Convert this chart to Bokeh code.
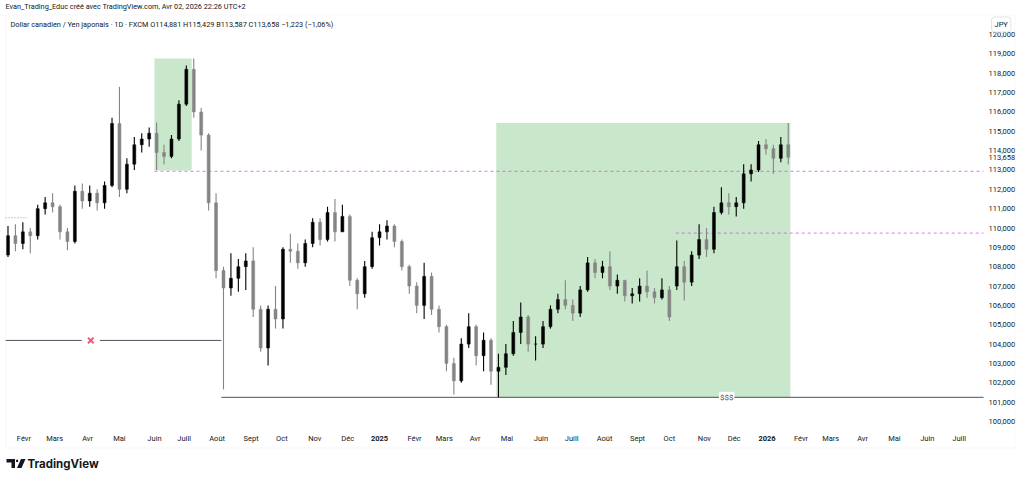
import pandas as pd
from bokeh.plotting import figure
from bokeh.models import (Range1d, LinearAxis, FixedTicker, Label, BoxAnnotation,
                          PolyAnnotation, ColumnDataSource)
from bokeh.embed import file_html
from bokeh.resources import INLINE

# ---------------- data (weekly candles) ----------------
first_week = "2024-01-15"
first_open = 108.6
gap_opens = {"2025-10-06": 107.0}

close = [109.6, 109.2, 109.8, 109.6, 111.0, 111.3, 111.1, 109.8, 109.3, 111.9,
         111.4, 111.8, 111.3, 112.2, 115.4, 112.0, 113.3, 114.3, 114.6, 114.9,
         113.9, 113.7, 114.6, 116.4, 118.2, 116.0, 114.8, 111.3, 107.8, 106.9,
         107.4, 108.0, 108.3, 105.8, 103.8, 105.8, 105.3, 108.9, 108.8, 108.2,
         109.2, 110.3, 109.4, 110.8, 109.8, 110.6, 107.3, 106.6, 108.0, 109.5,
         109.8, 110.1, 109.3, 108.0, 107.0, 106.0, 107.5, 105.8, 104.9, 103.0,
         102.1, 104.0, 104.9, 103.4, 104.2, 102.6, 102.8, 103.5, 104.6, 105.4,
         104.0, 104.0, 104.9, 105.8, 106.3, 106.0, 105.6, 106.8, 108.2, 107.7,
         108.0, 107.0, 107.3, 106.5, 106.6, 107.0, 106.7, 106.4, 106.8, 105.4,
         108.0, 107.2, 108.6, 109.4, 108.9, 110.8, 111.3, 111.1, 111.3, 112.8,
         113.0, 114.3, 114.1, 113.6, 114.3, 113.658]
high = [110.1, 110.2, 110.3, 110.0, 111.2, 111.6, 111.8, 111.2, 110.0, 112.2,
        112.3, 112.2, 112.0, 112.4, 115.7, 117.3, 113.6, 114.7, 114.9, 115.2,
        115.45, 114.3, 114.8, 116.6, 118.4, 118.76, 116.2, 114.9, 111.8, 108.0,
        108.7, 108.4, 108.7, 109.0, 106.0, 106.0, 107.0, 109.0, 109.7, 109.2,
        109.4, 110.5, 110.5, 111.1, 111.5, 111.2, 110.7, 107.4, 108.3, 109.8,
        110.2, 110.4, 110.2, 109.4, 108.1, 107.2, 108.2, 107.7, 106.0, 105.0,
        103.3, 104.3, 105.6, 105.0, 104.6, 104.3, 103.5, 104.0, 105.2, 106.15,
        105.5, 104.4, 105.2, 106.0, 106.6, 107.3, 106.3, 107.0, 108.5, 108.4,
        108.3, 108.8, 107.6, 107.2, 106.9, 107.4, 107.8, 106.9, 107.4, 107.0,
        109.35, 108.3, 108.8, 110.2, 110.0, 111.1, 112.1, 111.8, 111.6, 113.3,
        113.3, 114.5, 114.6, 114.3, 114.7, 115.43]
low = [108.5, 108.8, 108.9, 108.7, 109.4, 110.7, 110.8, 109.4, 108.85, 109.2,
       111.0, 111.1, 110.9, 111.0, 112.1, 111.6, 111.8, 113.0, 113.9, 114.2,
       113.0, 113.3, 113.6, 114.5, 116.3, 115.7, 114.0, 110.9, 107.4, 101.65,
       106.5, 106.7, 106.8, 105.4, 103.6, 102.9, 104.8, 104.8, 108.2, 107.9,
       108.0, 109.0, 109.1, 109.3, 109.3, 109.8, 107.0, 105.8, 106.4, 107.9,
       109.1, 109.4, 109.0, 107.8, 106.6, 105.6, 105.3, 105.5, 104.6, 102.6,
       101.4, 102.0, 103.8, 102.9, 102.6, 101.9, 101.25, 102.4, 103.4, 104.0,
       103.6, 103.15, 103.8, 104.8, 105.6, 105.8, 105.2, 105.4, 106.7, 107.4,
       107.4, 106.8, 106.6, 106.2, 106.1, 106.2, 106.4, 106.1, 106.3, 105.2,
       106.8, 106.25, 107.0, 108.4, 108.5, 108.7, 110.7, 110.7, 110.6, 111.0,
       112.4, 112.9, 113.8, 112.8, 113.4, 113.3]

# time axis labels (first trading day of each month)
month_dates = ["2024-02-01", "2024-03-01", "2024-04-01", "2024-05-01", "2024-06-03",
               "2024-07-01", "2024-08-01", "2024-09-02", "2024-10-01", "2024-11-01",
               "2024-12-02", "2025-02-03", "2025-03-03", "2025-04-01", "2025-05-01",
               "2025-06-02", "2025-07-01", "2025-08-01", "2025-09-01", "2025-10-01",
               "2025-11-03", "2025-12-01", "2026-02-02", "2026-03-02", "2026-04-01",
               "2026-05-01", "2026-06-01", "2026-07-01"]
month_labels = ["Févr", "Mars", "Avr", "Mai", "Juin", "Juill", "Août", "Sept", "Oct",
                "Nov", "Déc", "Févr", "Mars", "Avr", "Mai", "Juin", "Juill", "Août",
                "Sept", "Oct", "Nov", "Déc", "Févr", "Mars", "Avr", "Mai", "Juin", "Juill"]
year_dates = ["2025-01-01", "2026-01-01"]
year_labels = ["2025", "2026"]
price_ticks = list(range(100, 121))
last_price = 113.658

# drawings
zone_start = ["2024-06-03", "2025-04-21"]
zone_end = ["2024-07-08", "2026-01-23"]
zone_top = [118.76, 115.43]
zone_bottom = [112.97, 101.24]
dash_start = ["2024-06-03", "2025-10-07"]
dash_price = [112.93, 109.73]
swing_low_price = 104.19
swing_low_end = "2024-08-05"
cross_date = "2024-04-04"
liquidity_price = 101.25
liquidity_start = "2024-08-05"
liquidity_label_date = "2025-11-24"
prev_close_price = 110.53
prev_close_end = "2024-02-04"

# ---------------- helpers ----------------
BASE = pd.Timestamp("2024-01-01")
def day(s):
    return (pd.Timestamp(s) - BASE).days

PX_PER_DAY = 1.0616
PX_PER_UNIT = 19.35
def dx(px):  # page pixel -> day number
    return (px + 9.5) / PX_PER_DAY
def py(px):  # page pixel -> price
    return 100 + (421 - px) / PX_PER_UNIT

CHART_LEFT = dx(5)
CHART_RIGHT = dx(983)

weeks = pd.date_range(first_week, periods=len(close), freq="7D")
xs = [(w - BASE).days + 2 for w in weeks]
opens = [first_open] + close[:-1]
for i, w in enumerate(weeks):
    key = w.strftime("%Y-%m-%d")
    if key in gap_opens:
        opens[i] = gap_opens[key]
UP = "#000000"
DOWN = "#858585"
colors = [UP if c >= o else DOWN for o, c in zip(opens, close)]
src = ColumnDataSource(dict(
    x=xs, o=opens, h=high, l=low, c=close,
    top=[max(o, c) for o, c in zip(opens, close)],
    bottom=[min(o, c) for o, c in zip(opens, close)],
    color=colors))

FONT = "Roboto"
TXT = "#131722"

p = figure(width=1024, height=480, x_range=Range1d(dx(0), dx(1024)),
           y_range=Range1d(py(480), py(0)), x_axis_type=None, y_axis_type=None,
           toolbar_location=None, output_backend="svg",
           min_border_left=0, min_border_right=0, min_border_top=0, min_border_bottom=0)
p.outline_line_color = None
p.background_fill_color = "white"
p.border_fill_color = "white"

# outer frame of the chart
p.add_layout(BoxAnnotation(left=dx(5.5), right=dx(1014.5), top=py(14.5), bottom=py(447.5),
                           fill_color=None, line_color="#e0e3eb", line_width=1))

# zones
p.quad(left=[day(d) for d in zone_start], right=[day(d) for d in zone_end],
       top=zone_top, bottom=zone_bottom, fill_color="#4caf50", fill_alpha=0.3, line_color=None)

# horizontal levels
cx = day(cross_date)
p.segment(x0=[CHART_LEFT, cx + 8.5], x1=[cx - 8.5, day(swing_low_end)],
          y0=[swing_low_price] * 2, y1=[swing_low_price] * 2, line_color="#50535e", line_width=1)
p.segment(x0=[day(liquidity_start)], x1=[CHART_RIGHT], y0=[liquidity_price], y1=[liquidity_price],
          line_color="#50535e", line_width=1)
for d, v in zip(dash_start, dash_price):
    p.segment(x0=[day(d)], x1=[CHART_RIGHT], y0=[v], y1=[v],
              line_color="#e040fb", line_alpha=0.6, line_width=1.3, line_dash="3 3")
p.segment(x0=[CHART_LEFT], x1=[day(prev_close_end)], y0=[prev_close_price], y1=[prev_close_price],
          line_color="#9598a1", line_width=1, line_dash="1 2")
p.scatter(x=[cx], y=[swing_low_price], marker="x", size=8, line_width=2, line_color="#f7527a")

# candles
p.segment(x0="x", x1="x", y0="l", y1="h", line_color="color", line_width=1.1, source=src)
p.vbar(x="x", width=2.8, top="top", bottom="bottom", fill_color="color", line_color="color",
       line_width=0.5, source=src)

# $$$ label
p.add_layout(Label(x=day(liquidity_label_date), y=liquidity_price, text="$$$", text_align="center",
                   text_baseline="middle", text_font=FONT, text_font_size="8px", text_color="#50535e",
                   background_fill_color="white", padding=1))

# axes (drawn inward so that they sit inside the chart box)
xaxis = LinearAxis(ticker=FixedTicker(ticks=[day(d) for d in month_dates]),
                   major_label_overrides={day(d): t for d, t in zip(month_dates, month_labels)})
yticks = price_ticks + [last_price]
ylabels = {t: f"{t},000" for t in price_ticks}
ylabels[last_price] = f"{last_price:.3f}".replace(".", ",")
yaxis = LinearAxis(ticker=FixedTicker(ticks=yticks), major_label_overrides=ylabels)
for ax in (xaxis, yaxis):
    ax.axis_line_color = None
    ax.major_tick_line_color = None
    ax.minor_tick_line_color = None
    ax.major_tick_out = 0
    ax.major_tick_in = 0
    ax.major_label_text_font = FONT
    ax.major_label_text_font_size = "7.5px"
    ax.major_label_text_color = TXT
xaxis.major_label_standoff = -47
yaxis.major_label_standoff = -36
p.add_layout(xaxis, "below")
p.add_layout(yaxis, "right")

for d, t in zip(year_dates, year_labels):
    p.add_layout(Label(x=day(d), y=py(438), text=t, text_align="center", text_baseline="middle",
                       text_font=FONT, text_font_size="7.5px", text_font_style="bold", text_color=TXT))

p.add_layout(Label(x=dx(991), y=py(24), text="JPY", text_baseline="middle", text_font=FONT,
                   text_font_size="7.5px", text_color=TXT, border_line_color="#e0e3eb",
                   background_fill_color="white", padding=3, border_radius=3))

# header texts
p.add_layout(Label(x=dx(5), y=py(6), text="Evan_Trading_Educ créé avec TradingView.com, Avr 02, 2026 22:26 UTC+2",
                   text_baseline="middle", text_font=FONT, text_font_size="7.3px", text_color=TXT))
p.add_layout(Label(x=dx(10), y=py(24),
                   text="Dollar canadien / Yen japonais · 1D · FXCM O114,881 H115,429 B113,587 C113,658 −1,223 (−1,06%)",
                   text_baseline="middle", text_font=FONT, text_font_size="7.3px", text_color=TXT))

# TradingView logo
p.add_layout(PolyAnnotation(xs=[dx(v) for v in [6, 14.5, 14.5, 11, 11, 6]],
                            ys=[py(v) for v in [458.5, 458.5, 467.5, 467.5, 462, 462]],
                            fill_color=TXT, fill_alpha=1, line_color=None))
p.add_layout(PolyAnnotation(xs=[dx(v) for v in [15.6, 17.6, 17.6, 15.6]],
                            ys=[py(v) for v in [459.2, 459.2, 461.4, 461.4]],
                            fill_color=TXT, fill_alpha=1, line_color=None))
p.add_layout(PolyAnnotation(xs=[dx(v) for v in [20.5, 25, 21, 16.5]],
                            ys=[py(v) for v in [458.5, 458.5, 467.5, 467.5]],
                            fill_color=TXT, fill_alpha=1, line_color=None))
p.add_layout(Label(x=dx(27), y=py(463), text="TradingView", text_baseline="middle", text_font="Inter",
                   text_font_size="11.5px", text_font_style="bold", text_color=TXT))

open("out.html", "w").write(file_html(p, INLINE))
